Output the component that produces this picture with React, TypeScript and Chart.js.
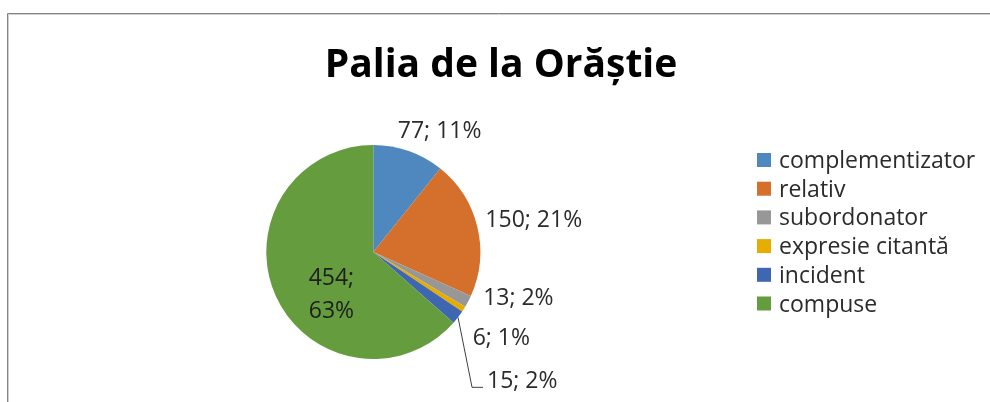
import { useEffect, useRef } from "react";
import { Chart, ArcElement, PieController } from "chart.js";

Chart.register(ArcElement, PieController);

const TITLE = "Palia de la Orăștie";
const categories = ["complementizator", "relativ", "subordonator", "expresie citantă", "incident", "compuse"];
const counts = [77, 150, 13, 6, 15, 454];
const colors = ["#4F88BF", "#D5702C", "#979797", "#E7AC00", "#3F67B1", "#659C3E"];

const FONT = '"Open Sans", "Liberation Sans", sans-serif';
const TEXT = "#2b2b2b";

// label placement relative to the arc edge point at each slice's mid-angle
const placement: any[] = [
  { dx: -11, dy: -13 },
  { dx: 8, dy: 0 },
  { dx: 15, dy: 3.5 },
  { dx: 9, dy: 36 },
  { dx: 29, dy: 71, leader: true },
  { inside: true, frac: 0.45, dx: 2, dy: 13, lineH: 33 },
];

const decor = {
  id: "decor",
  beforeDraw(chart: any) {
    const ctx = chart.ctx;
    ctx.save();
    ctx.fillStyle = "#ffffff";
    ctx.fillRect(0, 0, chart.width, chart.height);
    ctx.lineWidth = 1;
    ctx.strokeStyle = "#858585";
    ctx.beginPath();
    ctx.moveTo(7.5, chart.height);
    ctx.lineTo(7.5, 13.5);
    ctx.lineTo(chart.width, 13.5);
    ctx.stroke();
    ctx.strokeStyle = "#cfcfcf";
    ctx.beginPath();
    ctx.moveTo(8.5, chart.height);
    ctx.lineTo(8.5, 14.5);
    ctx.lineTo(chart.width, 14.5);
    ctx.stroke();
    ctx.restore();
  },
  afterDatasetsDraw(chart: any) {
    const ctx = chart.ctx;
    const meta = chart.getDatasetMeta(0);
    const data = chart.data.datasets[0].data as number[];
    const total = data.reduce((a, b) => a + b, 0);
    ctx.save();
    ctx.font = `23px ${FONT}`;
    ctx.fillStyle = TEXT;
    ctx.textBaseline = "alphabetic";
    meta.data.forEach((el: any, i: number) => {
      const p = el.getProps(["x", "y", "startAngle", "endAngle", "outerRadius"], true);
      const mid = (p.startAngle + p.endAngle) / 2;
      const pct = Math.round((data[i] / total) * 100);
      const cfg = placement[i];
      if (cfg.inside) {
        const r = p.outerRadius * cfg.frac;
        const cx = p.x + r * Math.cos(mid) + cfg.dx;
        const cy = p.y + r * Math.sin(mid) + cfg.dy;
        ctx.textAlign = "center";
        ctx.fillStyle = "#1e1e1e";
        ctx.fillText(`${data[i]};`, cx, cy);
        ctx.fillText(`${pct}%`, cx, cy + cfg.lineH);
        ctx.fillStyle = TEXT;
        return;
      }
      const ex = p.x + p.outerRadius * Math.cos(mid);
      const ey = p.y + p.outerRadius * Math.sin(mid);
      const tx = ex + cfg.dx;
      const ty = ey + cfg.dy;
      ctx.textAlign = "left";
      ctx.fillText(`${data[i]}; ${pct}%`, tx, ty);
      if (cfg.leader) {
        ctx.strokeStyle = "#404040";
        ctx.lineWidth = 1;
        ctx.beginPath();
        ctx.moveTo(ex, ey);
        ctx.lineTo(tx - 15, ty - 1);
        ctx.lineTo(tx - 4, ty - 1);
        ctx.stroke();
      }
    });
    ctx.restore();
  },
  afterDraw(chart: any) {
    const ctx = chart.ctx;
    ctx.save();
    ctx.fillStyle = "#000000";
    ctx.font = `bold 39px ${FONT}`;
    ctx.textAlign = "center";
    ctx.textBaseline = "alphabetic";
    ctx.fillText(TITLE, 501, 77);

    const labels = chart.data.labels as string[];
    const bg = chart.data.datasets[0].backgroundColor as string[];
    ctx.font = `23px ${FONT}`;
    ctx.textAlign = "left";
    labels.forEach((lab, i) => {
      const base = 168 + i * 28.7;
      ctx.fillStyle = bg[i];
      ctx.fillRect(757, base - 15, 14, 14);
      ctx.fillStyle = TEXT;
      ctx.fillText(lab, 779, base);
    });
    ctx.restore();
  },
};

export default function App() {
  const ref = useRef<HTMLCanvasElement>(null);
  useEffect(() => {
    if (!ref.current) return;
    const chart = new Chart(ref.current, {
      type: "pie",
      data: {
        labels: categories,
        datasets: [
          {
            data: counts,
            backgroundColor: colors,
            borderWidth: 0,
          },
        ],
      },
      options: {
        responsive: false,
        animation: false,
        layout: { padding: { left: 266.3, right: 509.7, top: 145, bottom: 43 } },
        plugins: {
          legend: { display: false },
          title: { display: false },
          tooltip: { enabled: false },
        },
      },
      plugins: [decor],
    });
    return () => chart.destroy();
  }, []);
  return (
    <div style={{ position: "absolute", left: 0, top: 0, width: 990, height: 402 }}>
      <canvas ref={ref} width={990} height={402} />
    </div>
  );
}
